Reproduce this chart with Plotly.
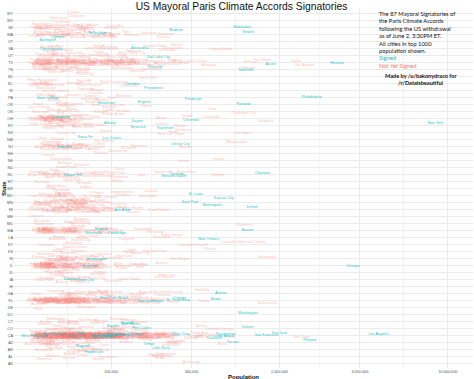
import plotly.graph_objects as go

# ---------------- data ----------------
# states on the y axis, bottom (AK) to top (WY)
STATE_ORDER = ["AK","AL","AR","AZ","CA","CO","CT","DC","DE","FL","GA","HI","IA","ID","IL","IN","KS",
               "KY","LA","MA","MD","ME","MI","MN","MO","MS","MT","NC","ND","NE","NH","NJ","NM","NV",
               "NY","OH","OK","OR","PA","RI","SC","SD","TN","TX","UT","VA","VT","WA","WI","WV","WY"]

X_TICKS = [100000, 300000, 1000000, 3000000, 10000000]
X_TICK_LABELS = ["100,000", "300,000", "1,000,000", "3,000,000", "10,000,000"]

CITY = [
 "Cheyenne, WY","Casper, WY",
 "Charleston, WV","Huntington, WV",
 "Milwaukee, WI","Madison, WI","Green Bay, WI","Kenosha, WI","Racine, WI","Appleton, WI","Waukesha, WI","Eau Claire, WI",
 "Oshkosh, WI","Janesville, WI","West Allis, WI","La Crosse, WI","Sheboygan, WI","Wauwatosa, WI","Fond du Lac, WI","New Berlin, WI",
 "Wausau, WI","Brookfield, WI","Greenfield, WI","Beloit, WI",
 "Seattle, WA","Spokane, WA","Tacoma, WA","Vancouver, WA","Bellevue, WA","Kent, WA","Everett, WA","Renton, WA",
 "Yakima, WA","Federal Way, WA","Spokane Valley, WA","Bellingham, WA","Kennewick, WA","Auburn, WA","Pasco, WA","Marysville, WA",
 "Lakewood, WA","Redmond, WA","Shoreline, WA","Richland, WA","Kirkland, WA","Burien, WA","Sammamish, WA","Olympia, WA",
 "Lacey, WA","Edmonds, WA","Bremerton, WA","Puyallup, WA","Longview, WA",
 "Burlington, VT",
 "Virginia Beach, VA","Norfolk, VA","Chesapeake, VA","Richmond, VA","Newport News, VA","Alexandria, VA","Hampton, VA","Roanoke, VA",
 "Portsmouth, VA","Suffolk, VA","Lynchburg, VA","Harrisonburg, VA","Leesburg, VA","Charlottesville, VA","Danville, VA","Blacksburg, VA",
 "Salt Lake City, UT","West Valley City, UT","Provo, UT","West Jordan, UT","Orem, UT","Sandy, UT","Ogden, UT","St. George, UT",
 "Layton, UT","Taylorsville, UT","South Jordan, UT","Lehi, UT","Logan, UT","Murray, UT","Draper, UT","Bountiful, UT",
 "Riverton, UT","Roy, UT",
 "Houston, TX","San Antonio, TX","Dallas, TX","Austin, TX","Fort Worth, TX","El Paso, TX","Arlington, TX","Corpus Christi, TX",
 "Plano, TX","Laredo, TX","Lubbock, TX","Garland, TX","Irving, TX","Amarillo, TX","Grand Prairie, TX","Brownsville, TX",
 "Pasadena, TX","McKinney, TX","Mesquite, TX","McAllen, TX","Killeen, TX","Frisco, TX","Waco, TX","Carrollton, TX",
 "Denton, TX","Midland, TX","Abilene, TX","Beaumont, TX","Round Rock, TX","Odessa, TX","Wichita Falls, TX","Richardson, TX",
 "Lewisville, TX","Tyler, TX","College Station, TX","Pearland, TX","San Angelo, TX","Allen, TX","League City, TX","Sugar Land, TX",
 "Longview, TX","Edinburg, TX","Mission, TX","Bryan, TX","Baytown, TX","Pharr, TX","Temple, TX","Missouri City, TX",
 "Flower Mound, TX","Harlingen, TX","North Richland Hills, TX","Victoria, TX","Conroe, TX","New Braunfels, TX","Mansfield, TX","Cedar Park, TX",
 "Rowlett, TX","Port Arthur, TX","Euless, TX","Georgetown, TX","Pflugerville, TX","DeSoto, TX","San Marcos, TX","Grapevine, TX",
 "Bedford, TX","Galveston, TX","Cedar Hill, TX","Texas City, TX","Wylie, TX","Haltom City, TX","Keller, TX","Coppell, TX",
 "Rockwall, TX","Huntsville, TX","Duncanville, TX","Sherman, TX","The Colony, TX","Burleson, TX","Hurst, TX","Lancaster, TX",
 "Texarkana, TX","Friendswood, TX","Weslaco, TX",
 "Memphis, TN","Nashville, TN","Knoxville, TN","Chattanooga, TN","Clarksville, TN","Murfreesboro, TN","Franklin, TN","Jackson, TN",
 "Johnson City, TN","Bartlett, TN","Hendersonville, TN","Kingsport, TN","Collierville, TN","Cleveland, TN","Smyrna, TN","Germantown, TN",
 "Brentwood, TN",
 "Sioux Falls, SD","Rapid City, SD",
 "Columbia, SC","Charleston, SC","North Charleston, SC","Mount Pleasant, SC","Rock Hill, SC","Greenville, SC","Summerville, SC","Sumter, SC",
 "Goose Creek, SC","Hilton Head Island, SC","Florence, SC","Spartanburg, SC",
 "Providence, RI","Warwick, RI","Cranston, RI","Pawtucket, RI","East Providence, RI","Woonsocket, RI",
 "Philadelphia, PA","Pittsburgh, PA","Allentown, PA","Erie, PA","Reading, PA","Scranton, PA","Bethlehem, PA","Lancaster, PA",
 "Harrisburg, PA","Altoona, PA","York, PA","State College, PA","Wilkes-Barre, PA",
 "Portland, OR","Salem, OR","Eugene, OR","Gresham, OR","Hillsboro, OR","Beaverton, OR","Bend, OR","Medford, OR",
 "Springfield, OR","Corvallis, OR","Albany, OR","Tigard, OR","Lake Oswego, OR","Keizer, OR",
 "Oklahoma City, OK","Tulsa, OK","Norman, OK","Broken Arrow, OK","Lawton, OK","Edmond, OK","Moore, OK","Midwest City, OK",
 "Enid, OK","Stillwater, OK","Muskogee, OK",
 "Columbus, OH","Cleveland, OH","Cincinnati, OH","Toledo, OH","Akron, OH","Dayton, OH","Parma, OH","Canton, OH",
 "Youngstown, OH","Lorain, OH","Hamilton, OH","Springfield, OH","Kettering, OH","Elyria, OH","Lakewood, OH","Cuyahoga Falls, OH",
 "Middletown, OH","Euclid, OH","Newark, OH","Mansfield, OH","Mentor, OH","Beavercreek, OH","Cleveland Heights, OH","Strongsville, OH",
 "Dublin, OH","Fairfield, OH","Findlay, OH","Warren, OH","Lancaster, OH","Lima, OH","Huber Heights, OH","Westerville, OH",
 "New York, NY","Buffalo, NY","Rochester, NY","Yonkers, NY","Syracuse, NY","Albany, NY","New Rochelle, NY","Mount Vernon, NY",
 "Schenectady, NY","Utica, NY","White Plains, NY","Hempstead, NY","Troy, NY","Niagara Falls, NY","Binghamton, NY","Freeport, NY",
 "Valley Stream, NY",
 "Las Vegas, NV","Henderson, NV","Reno, NV","North Las Vegas, NV","Sparks, NV","Carson City, NV",
 "Albuquerque, NM","Las Cruces, NM","Rio Rancho, NM","Santa Fe, NM","Roswell, NM","Farmington, NM","Clovis, NM",
 "Newark, NJ","Jersey City, NJ","Paterson, NJ","Elizabeth, NJ","Clifton, NJ","Trenton, NJ","Camden, NJ","Passaic, NJ",
 "Union City, NJ","Bayonne, NJ","East Orange, NJ","Vineland, NJ","New Brunswick, NJ","Hoboken, NJ","West New York, NJ","Perth Amboy, NJ",
 "Plainfield, NJ","Hackensack, NJ","Sayreville, NJ","Kearny, NJ","Linden, NJ","Atlantic City, NJ",
 "Manchester, NH","Nashua, NH","Concord, NH",
 "Omaha, NE","Lincoln, NE","Bellevue, NE","Grand Island, NE",
 "Fargo, ND","Bismarck, ND","Grand Forks, ND","Minot, ND",
 "Charlotte, NC","Raleigh, NC","Greensboro, NC","Durham, NC","Winston-Salem, NC","Fayetteville, NC","Cary, NC","Wilmington, NC",
 "High Point, NC","Greenville, NC","Asheville, NC","Concord, NC","Gastonia, NC","Jacksonville, NC","Chapel Hill, NC","Rocky Mount, NC",
 "Burlington, NC","Huntersville, NC","Wilson, NC","Kannapolis, NC","Apex, NC","Hickory, NC","Wake Forest, NC","Indian Trail, NC",
 "Billings, MT","Missoula, MT","Great Falls, MT","Bozeman, MT",
 "Jackson, MS","Gulfport, MS","Southaven, MS","Hattiesburg, MS","Biloxi, MS",
 "Kansas City, MO","St. Louis, MO","Springfield, MO","Independence, MO","Columbia, MO","Lee's Summit, MO","O'Fallon, MO","St. Joseph, MO",
 "St. Charles, MO","St. Peters, MO","Blue Springs, MO","Florissant, MO","Joplin, MO","Chesterfield, MO","Jefferson City, MO","Cape Girardeau, MO",
 "Minneapolis, MN","Saint Paul, MN","Rochester, MN","Duluth, MN","Bloomington, MN","Brooklyn Park, MN","Plymouth, MN","St. Cloud, MN",
 "Maple Grove, MN","Woodbury, MN","Eagan, MN","Eden Prairie, MN","Coon Rapids, MN","Burnsville, MN","Blaine, MN","Lakeville, MN",
 "Minnetonka, MN","Apple Valley, MN","Edina, MN","St. Louis Park, MN","Mankato, MN","Maplewood, MN","Moorhead, MN","Shakopee, MN",
 "Detroit, MI","Grand Rapids, MI","Warren, MI","Sterling Heights, MI","Ann Arbor, MI","Lansing, MI","Flint, MI","Dearborn, MI",
 "Livonia, MI","Westland, MI","Troy, MI","Farmington Hills, MI","Kalamazoo, MI","Wyoming, MI","Southfield, MI","Rochester Hills, MI",
 "Taylor, MI","Pontiac, MI","St. Clair Shores, MI","Royal Oak, MI","Novi, MI","Dearborn Heights, MI","Battle Creek, MI","Saginaw, MI",
 "Kentwood, MI","East Lansing, MI","Roseville, MI","Portage, MI","Midland, MI","Muskegon, MI","Lincoln Park, MI",
 "Portland, ME","Lewiston, ME",
 "Baltimore, MD","Frederick, MD","Gaithersburg, MD","Rockville, MD","Bowie, MD","Hagerstown, MD","Annapolis, MD",
 "Boston, MA","Worcester, MA","Springfield, MA","Lowell, MA","Cambridge, MA","New Bedford, MA","Brockton, MA","Quincy, MA",
 "Lynn, MA","Fall River, MA","Newton, MA","Lawrence, MA","Somerville, MA","Framingham, MA","Waltham, MA","Haverhill, MA",
 "Malden, MA","Brookline, MA","Plymouth, MA","Medford, MA","Taunton, MA","Chicopee, MA","Weymouth, MA","Revere, MA",
 "Peabody, MA","Methuen, MA","Barnstable, MA","Pittsfield, MA","Attleboro, MA","Arlington, MA","Everett, MA","Salem, MA",
 "Westfield, MA","Leominster, MA","Fitchburg, MA","Beverly, MA","Holyoke, MA","Marlborough, MA","Woburn, MA","Chelsea, MA",
 "New Orleans, LA","Baton Rouge, LA","Shreveport, LA","Lafayette, LA","Lake Charles, LA","Kenner, LA","Bossier City, LA","Monroe, LA",
 "Alexandria, LA",
 "Louisville/Jefferson County, KY","Lexington-Fayette, KY","Bowling Green, KY","Owensboro, KY","Covington, KY",
 "Wichita, KS","Overland Park, KS","Kansas City, KS","Olathe, KS","Topeka, KS","Lawrence, KS","Shawnee, KS","Manhattan, KS",
 "Lenexa, KS","Salina, KS","Hutchinson, KS",
 "Indianapolis, IN","Fort Wayne, IN","Evansville, IN","South Bend, IN","Carmel, IN","Fishers, IN","Bloomington, IN","Hammond, IN",
 "Gary, IN","Muncie, IN","Lafayette, IN","Terre Haute, IN","Kokomo, IN","Noblesville, IN","Anderson, IN","Greenwood, IN",
 "Elkhart, IN","Mishawaka, IN","Lawrence, IN","Jeffersonville, IN","Columbus, IN","Portage, IN",
 "Chicago, IL","Aurora, IL","Rockford, IL","Joliet, IL","Naperville, IL","Springfield, IL","Peoria, IL","Elgin, IL",
 "Waukegan, IL","Cicero, IL","Champaign, IL","Bloomington, IL","Arlington Heights, IL","Evanston, IL","Decatur, IL","Schaumburg, IL",
 "Bolingbrook, IL","Palatine, IL","Skokie, IL","Des Plaines, IL","Orland Park, IL","Tinley Park, IL","Oak Lawn, IL","Berwyn, IL",
 "Mount Prospect, IL","Normal, IL","Wheaton, IL","Hoffman Estates, IL","Oak Park, IL","Downers Grove, IL","Glenview, IL","Elmhurst, IL",
 "DeKalb, IL","Lombard, IL","Moline, IL","Belleville, IL","Plainfield, IL","Buffalo Grove, IL","Bartlett, IL","Urbana, IL",
 "Quincy, IL","Crystal Lake, IL","Streamwood, IL","Carol Stream, IL","Romeoville, IL","Rock Island, IL","Hanover Park, IL","Wheeling, IL",
 "Boise City, ID","Nampa, ID","Meridian, ID","Idaho Falls, ID","Pocatello, ID","Caldwell, ID","Coeur d'Alene, ID","Twin Falls, ID",
 "Des Moines, IA","Cedar Rapids, IA","Davenport, IA","Sioux City, IA","Iowa City, IA","Waterloo, IA","Council Bluffs, IA","Ames, IA",
 "West Des Moines, IA","Dubuque, IA","Ankeny, IA","Urbandale, IA","Cedar Falls, IA",
 "Honolulu, HI",
 "Atlanta, GA","Columbus, GA","Augusta-Richmond County, GA","Savannah, GA","Athens-Clarke County, GA","Sandy Springs, GA","Roswell, GA","Macon, GA",
 "Johns Creek, GA","Albany, GA","Warner Robins, GA","Alpharetta, GA","Marietta, GA","Valdosta, GA","Smyrna, GA","Dunwoody, GA",
 "Rome, GA",
 "Jacksonville, FL","Miami, FL","Tampa, FL","Orlando, FL","St. Petersburg, FL","Hialeah, FL","Tallahassee, FL","Fort Lauderdale, FL",
 "Port St. Lucie, FL","Cape Coral, FL","Pembroke Pines, FL","Hollywood, FL","Miramar, FL","Gainesville, FL","Coral Springs, FL","Miami Gardens, FL",
 "Clearwater, FL","Palm Bay, FL","Pompano Beach, FL","West Palm Beach, FL","Lakeland, FL","Davie, FL","Miami Beach, FL","Sunrise, FL",
 "Plantation, FL","Boca Raton, FL","Deltona, FL","Largo, FL","Deerfield Beach, FL","Palm Coast, FL","Melbourne, FL","Boynton Beach, FL",
 "Lauderhill, FL","Weston, FL","Fort Myers, FL","Kissimmee, FL","Homestead, FL","Delray Beach, FL","Tamarac, FL","Daytona Beach, FL",
 "North Miami, FL","Wellington, FL","North Port, FL","Jupiter, FL","Ocala, FL","Port Orange, FL","Margate, FL","Coconut Creek, FL",
 "Sanford, FL","Sarasota, FL","Pensacola, FL","Bradenton, FL","Palm Beach Gardens, FL","Pinellas Park, FL","Coral Gables, FL","Doral, FL",
 "Bonita Springs, FL","Apopka, FL","Titusville, FL","North Miami Beach, FL","Oakland Park, FL","Fort Pierce, FL","North Lauderdale, FL","Cutler Bay, FL",
 "Altamonte Springs, FL","St. Cloud, FL","Greenacres, FL","Ormond Beach, FL","Ocoee, FL","Hallandale Beach, FL","Winter Garden, FL","Aventura, FL",
 "Wilmington, DE","Dover, DE",
 "Washington, DC",
 "Bridgeport, CT","New Haven, CT","Stamford, CT","Hartford, CT","Waterbury, CT","Norwalk, CT","Danbury, CT","New Britain, CT",
 "Bristol, CT","Meriden, CT","West Haven, CT","Milford, CT","Middletown, CT","Shelton, CT","Norwich, CT",
 "Denver, CO","Colorado Springs, CO","Aurora, CO","Fort Collins, CO","Lakewood, CO","Thornton, CO","Arvada, CO","Westminster, CO",
 "Pueblo, CO","Centennial, CO","Boulder, CO","Greeley, CO","Longmont, CO","Loveland, CO","Broomfield, CO","Grand Junction, CO",
 "Castle Rock, CO","Commerce City, CO","Parker, CO","Littleton, CO","Northglenn, CO",
 "Los Angeles, CA","San Diego, CA","San Jose, CA","San Francisco, CA","Fresno, CA","Sacramento, CA","Long Beach, CA","Oakland, CA",
 "Bakersfield, CA","Anaheim, CA","Santa Ana, CA","Riverside, CA","Stockton, CA","Chula Vista, CA","Irvine, CA","Fremont, CA",
 "San Bernardino, CA","Modesto, CA","Fontana, CA","Oxnard, CA","Moreno Valley, CA","Glendale, CA","Huntington Beach, CA","Santa Clarita, CA",
 "Garden Grove, CA","Oceanside, CA","Rancho Cucamonga, CA","Santa Rosa, CA","Ontario, CA","Elk Grove, CA","Lancaster, CA","Corona, CA",
 "Palmdale, CA","Salinas, CA","Pomona, CA","Hayward, CA","Escondido, CA","Torrance, CA","Sunnyvale, CA","Pasadena, CA",
 "Orange, CA","Fullerton, CA","Thousand Oaks, CA","Visalia, CA","Simi Valley, CA","Concord, CA","Roseville, CA","Victorville, CA",
 "Santa Clara, CA","Vallejo, CA","Berkeley, CA","El Monte, CA","Downey, CA","Costa Mesa, CA","Inglewood, CA","Carlsbad, CA",
 "Fairfield, CA","Ventura, CA","West Covina, CA","Murrieta, CA","Richmond, CA","Antioch, CA","Norwalk, CA","Temecula, CA",
 "Burbank, CA","Daly City, CA","Santa Maria, CA","El Cajon, CA","Rialto, CA","San Mateo, CA","Clovis, CA","Compton, CA",
 "Jurupa Valley, CA","Mission Viejo, CA","Vista, CA","South Gate, CA","Vacaville, CA","Carson, CA","Hesperia, CA","Santa Monica, CA",
 "Westminster, CA","Redding, CA","Santa Barbara, CA","San Marcos, CA","Chico, CA","San Leandro, CA","Newport Beach, CA","Whittier, CA",
 "Hawthorne, CA","Citrus Heights, CA","Tracy, CA","Livermore, CA","Alhambra, CA","Menifee, CA","Buena Park, CA","Hemet, CA",
 "Lakewood, CA","Merced, CA","Chino, CA","Indio, CA","Redwood City, CA","Lake Forest, CA","Napa, CA","Tustin, CA",
 "Bellflower, CA","Mountain View, CA","Chino Hills, CA","Baldwin Park, CA","Alameda, CA","Upland, CA","San Ramon, CA","Pleasanton, CA",
 "Folsom, CA","Union City, CA","Perris, CA","Manteca, CA","Lynwood, CA","Apple Valley, CA","Redlands, CA","Turlock, CA",
 "Milpitas, CA","Redondo Beach, CA","Rancho Cordova, CA","Yorba Linda, CA","Palo Alto, CA","Davis, CA","Camarillo, CA","Walnut Creek, CA",
 "Pittsburg, CA","South San Francisco, CA","Yuba City, CA","San Clemente, CA","Laguna Niguel, CA","Pico Rivera, CA","Montebello, CA","Lodi, CA",
 "Madera, CA","Santa Cruz, CA","La Habra, CA","Encinitas, CA","Monterey Park, CA","Tulare, CA","Cupertino, CA","Gardena, CA",
 "National City, CA","Rocklin, CA","Petaluma, CA","Huntington Park, CA","San Rafael, CA","La Mesa, CA","Arcadia, CA","Fountain Valley, CA",
 "Diamond Bar, CA","Woodland, CA","Santee, CA","Lake Elsinore, CA","Porterville, CA","Paramount, CA","Eastvale, CA","Rosemead, CA",
 "Hanford, CA","Highland, CA","Brentwood, CA","Novato, CA","Colton, CA","Cathedral City, CA","Delano, CA","Yucaipa, CA",
 "Watsonville, CA","Placentia, CA","Glendora, CA","Gilroy, CA","Palm Desert, CA","Cerritos, CA","West Sacramento, CA","Aliso Viejo, CA",
 "Poway, CA","La Mirada, CA","Rancho Santa Margarita, CA","Cypress, CA","Dublin, CA","Covina, CA","Azusa, CA","Palm Springs, CA",
 "San Luis Obispo, CA","Ceres, CA","San Jacinto, CA","Lincoln, CA","Newark, CA","Lompoc, CA","El Centro, CA","Danville, CA",
 "Bell Gardens, CA","Coachella, CA","Rancho Palos Verdes, CA","San Bruno, CA","Rohnert Park, CA","Brea, CA","La Puente, CA","Campbell, CA",
 "San Gabriel, CA","Beaumont, CA","Morgan Hill, CA","Culver City, CA","Calexico, CA","Stanton, CA","La Quinta, CA","Pacifica, CA",
 "Montclair, CA","Oakley, CA","Monrovia, CA","Los Banos, CA","Martinez, CA","West Hollywood, CA",
 "Phoenix, AZ","Tucson, AZ","Mesa, AZ","Chandler, AZ","Glendale, AZ","Scottsdale, AZ","Gilbert, AZ","Tempe, AZ",
 "Peoria, AZ","Surprise, AZ","Yuma, AZ","Avondale, AZ","Goodyear, AZ","Flagstaff, AZ","Buckeye, AZ","Lake Havasu City, AZ",
 "Casa Grande, AZ","Sierra Vista, AZ","Maricopa, AZ","Oro Valley, AZ","Prescott, AZ","Bullhead City, AZ","Prescott Valley, AZ","Apache Junction, AZ",
 "Little Rock, AR","Fort Smith, AR","Fayetteville, AR","Springdale, AR","Jonesboro, AR","North Little Rock, AR","Conway, AR","Rogers, AR",
 "Pine Bluff, AR","Bentonville, AR",
 "Birmingham, AL","Montgomery, AL","Mobile, AL","Huntsville, AL","Tuscaloosa, AL","Hoover, AL","Dothan, AL","Decatur, AL",
 "Auburn, AL","Madison, AL","Florence, AL",
 "Anchorage, AK",
]

# population in thousands, same order as CITY
POP_K = [
 62,60,
 51,49,
 599,243,105,100,78,73,71,67,
 67,64,61,52,49,47,43,40,
 39,38,37,37,
 652,211,203,167,133,123,105,97,
 93,92,91,83,76,74,68,63,
 59,57,54,52,50,49,49,48,
 44,40,39,38,36,
 42,
 448,246,231,214,182,148,136,98,
 97,85,78,51,47,44,43,43,
 191,133,116,110,91,90,84,76,
 70,60,59,55,48,48,45,43,
 41,37,
 2196,1409,1258,885,792,674,380,316,
 274,245,240,235,229,197,183,181,
 153,148,144,136,137,136,130,126,
 123,123,120,118,110,110,104,104,
 101,99,100,100,97,92,90,84,
 81,81,81,78,75,73,70,70,
 68,65,67,65,63,63,60,61,
 58,54,53,54,53,51,54,49,
 48,48,46,46,44,43,42,40,
 40,39,39,39,39,40,38,38,
 37,37,37,
 653,634,183,173,142,117,68,67,
 65,55,54,52,47,43,43,39,
 39,
 165,70,
 133,128,104,74,69,61,46,41,
 39,39,38,37,
 178,82,81,71,47,41,
 1553,306,119,101,88,76,75,59,
 49,46,44,42,41,
 609,161,157,109,97,94,81,77,
 60,55,51,50,37,37,
 610,398,118,103,97,87,58,56,
 50,46,38,
 822,390,297,282,198,143,80,72,
 65,64,62,60,56,54,51,49,
 49,48,48,47,47,46,45,45,
 43,42,41,40,39,38,38,37,
 8406,259,210,199,144,98,79,68,
 66,62,57,54,50,49,46,43,
 38,
 604,271,233,226,93,54,
 557,101,91,70,48,45,39,
 278,257,145,127,85,84,77,70,
 68,65,64,61,57,53,53,51,
 50,44,44,41,41,40,
 110,87,42,
 434,268,53,50,
 113,67,54,46,
 792,431,280,246,236,204,151,112,
 108,90,87,83,73,69,59,56,
 51,50,49,44,43,40,37,37,
 109,69,59,39,
 172,71,51,47,44,
 467,318,165,117,116,93,82,77,
 67,54,53,52,51,47,43,39,
 400,294,110,86,86,78,73,66,
 65,65,65,62,62,61,61,58,
 51,50,49,47,40,39,39,39,
 689,192,135,131,117,113,100,96,
 95,83,82,81,75,74,72,72,
 62,60,60,58,57,56,51,50,
 50,48,47,47,42,37,37,
 66,36,
 622,67,65,64,56,40,39,
 646,183,154,109,108,95,94,93,
 91,88,87,78,78,70,63,62,
 61,59,57,57,56,55,55,53,
 52,49,44,44,44,43,42,42,
 41,41,40,40,40,39,39,37,
 379,229,200,124,74,67,66,49,
 48,
 609,308,61,59,41,
 386,181,149,131,127,90,64,56,
 50,48,41,
 843,256,120,101,85,83,82,79,
 79,70,70,61,57,56,55,53,
 51,48,47,46,45,37,
 2719,199,150,148,144,117,116,110,
 88,84,83,78,75,75,74,74,
 74,69,65,58,58,57,57,56,
 54,54,53,52,52,49,46,45,
 44,44,43,42,42,41,41,41,
 40,40,40,40,39,38,38,38,
 214,86,83,58,54,48,46,46,
 207,128,102,82,71,68,62,61,
 61,58,51,41,40,
 347,
 447,202,197,143,119,99,94,89,
 83,76,72,62,59,56,53,47,
 36,
 843,418,353,255,250,233,186,172,
 169,165,163,146,130,127,126,113,
 109,104,104,104,100,96,91,90,
 90,89,86,78,78,78,77,71,
 70,68,68,65,64,64,63,62,
 61,60,59,58,57,57,56,56,
 56,53,52,51,50,50,50,50,
 47,45,44,43,43,43,43,43,
 42,40,39,39,39,39,37,37,
 71,37,
 646,
 147,130,126,125,110,87,83,73,
 60,60,55,52,47,41,40,
 649,440,345,152,147,127,111,110,
 108,106,103,96,89,71,59,59,
 53,49,48,44,37,
 3884,1356,998,837,509,479,469,406,
 364,345,334,316,298,257,236,224,
 213,204,203,203,201,196,195,179,
 175,172,171,171,167,161,159,159,
 157,155,151,151,148,147,147,139,
 139,138,129,127,126,125,124,121,
 120,118,116,115,113,112,111,110,
 109,108,107,107,107,107,106,106,
 105,104,102,102,101,101,99,98,
 98,96,96,95,94,92,92,92,
 91,91,90,89,88,88,87,87,
 86,85,85,85,84,83,82,81,
 81,81,81,80,80,79,79,78,
 77,77,77,76,76,75,75,74,
 73,72,72,71,71,70,70,70,
 69,67,67,67,66,66,66,66,
 66,66,65,65,65,64,63,63,
 63,62,61,61,61,61,60,60,
 59,59,59,59,58,58,57,56,
 56,56,56,57,55,55,57,54,
 54,54,55,53,53,53,53,52,
 52,52,51,51,50,49,49,49,
 49,49,49,49,49,48,47,46,
 46,46,46,45,44,43,43,43,
 42,43,42,42,41,41,40,41,
 40,40,40,39,39,39,39,38,
 38,38,37,37,37,35,
 1513,527,457,249,235,226,229,168,
 162,123,91,78,72,68,56,53,
 51,44,45,41,40,39,39,37,
 197,87,79,76,71,66,63,60,
 46,40,
 212,201,195,186,95,84,68,56,
 57,45,40,
 301,
]

# mayors who had signed as of June 2, 3:30PM ET
SIGNED = [
 "New York, NY","Los Angeles, CA","Chicago, IL","Houston, TX","Philadelphia, PA","Phoenix, AZ","San Jose, CA",
 "San Francisco, CA","Austin, TX","Seattle, WA","Milwaukee, WI","Nashville, TN","Boston, MA","Detroit, MI",
 "Washington, DC","Denver, CO","Portland, OR","Atlanta, GA","Miami, FL","Kansas City, MO","St. Louis, MO",
 "Minneapolis, MN","Saint Paul, MN","Charlotte, NC","Durham, NC","Winston-Salem, NC","Chapel Hill, NC",
 "Jersey City, NJ","Hoboken, NJ","Orlando, FL","St. Petersburg, FL","New Orleans, LA","Pittsburgh, PA",
 "Salt Lake City, UT","Knoxville, TN","Providence, RI","Burlington, VT","Madison, WI","Olympia, WA",
 "Bellingham, WA","Santa Fe, NM","Albany, NY","Syracuse, NY","Tucson, AZ","Flagstaff, AZ","Tempe, AZ",
 "Long Beach, CA","Sacramento, CA","Oakland, CA","Berkeley, CA","Santa Monica, CA","Pasadena, CA",
 "Santa Barbara, CA","West Hollywood, CA","Santa Cruz, CA","Davis, CA","Palm Springs, CA","Richmond, CA",
 "San Leandro, CA","Chula Vista, CA","Boulder, CO","Fort Collins, CO","Evanston, IL","Ann Arbor, MI",
 "Iowa City, IA","Dubuque, IA","Bloomington, IN","Cambridge, MA","Somerville, MA","Newton, MA",
 "New Haven, CT","Hartford, CT","Fort Lauderdale, FL","West Palm Beach, FL","Columbia, SC","Little Rock, AR",
 "Fayetteville, AR","Alexandria, VA","Charlottesville, VA","Eugene, OR","Beaverton, OR","State College, PA",
 "Lakewood, OH","Cincinnati, OH","Dayton, OH","Las Cruces, NM","Rochester, NY",
]

INFO_LINES = ["The 87 Mayoral Signatories of", "the Paris Climate Accords", "following the US withdrawal",
              "as of June 2, 3:30PM ET.", "All cities in top 1000", "population shown."]
CREDIT_LINES = ["Made by /u/bakonydraco for", "/r/Dataisbeautiful"]

# ---------------- figure ----------------
TEAL = "#00BFC4"
SALMON = "#F8766D"
W, H = 474, 379
M = dict(l=14, r=1, t=9, b=11)
PLOT_H = H - M["t"] - M["b"]
PLOT_W = W - M["l"] - M["r"]


def paper_y(px):          # pixel row (from top of figure) -> paper y
    return 1 - (px - M["t"]) / PLOT_H


def paper_x(px):
    return (px - M["l"]) / PLOT_W


row = {s: i for i, s in enumerate(STATE_ORDER)}
signed_set = set(SIGNED)

groups = {False: ([], [], []), True: ([], [], [])}
n = min(len(CITY), len(POP_K))
for i in range(n):
    name, st = CITY[i].rsplit(", ", 1)
    jitter = ((i * 0.6180339887) % 1.0 - 0.5) * 0.84   # vertical jitter within the state row
    g = groups[CITY[i] in signed_set]
    g[0].append(POP_K[i] * 1000)
    g[1].append(row[st] + jitter)
    g[2].append(name)

fig = go.Figure()
for is_signed, color in ((False, "rgba(248,118,109,0.5)"), (True, "rgba(0,191,196,0.95)")):
    xs, ys, ts = groups[is_signed]
    fig.add_trace(go.Scatter(
        x=xs, y=ys, text=ts, mode="text",
        textfont=dict(size=3.7, color=color, family="Liberation Sans, Arial, sans-serif"),
        hoverinfo="text", showlegend=False,
    ))

minor_vals = [(a * b) ** 0.5 for a, b in zip([30000] + X_TICKS[:-1], X_TICKS)]

fig.update_layout(
    width=W, height=H,
    margin=M,
    paper_bgcolor="white", plot_bgcolor="white",
    showlegend=False,
    title=dict(text="US Mayoral Paris Climate Accords Signatories",
               x=0.5095, xanchor="center", y=0.983, yanchor="middle",
               font=dict(size=10.3, color="#111111", family="Liberation Sans, Arial, sans-serif")),
    xaxis=dict(type="log", range=[4.423, 7.149],
               tickvals=X_TICKS, ticktext=X_TICK_LABELS,
               tickfont=dict(size=3.8, color="#555555", family="Liberation Sans, Arial"),
               showgrid=True, gridcolor="#ebebeb", gridwidth=1,
               zeroline=False, showline=False, ticks="", automargin=False,
               minor=dict(tickvals=minor_vals, showgrid=True, gridcolor="#f4f4f4", gridwidth=0.6, ticks="")),
    yaxis=dict(range=[-0.6, len(STATE_ORDER) - 0.4],
               tickvals=list(range(len(STATE_ORDER))), ticktext=STATE_ORDER,
               tickfont=dict(size=3.8, color="#555555", family="Liberation Sans, Arial"),
               showgrid=True, gridcolor="#ebebeb", gridwidth=1,
               zeroline=False, showline=False, ticks="", automargin=False),
)

fig.add_annotation(xref="paper", yref="paper", x=0.5, y=0, yshift=-9,
                   text="<b>Population</b>", showarrow=False, xanchor="center", yanchor="middle",
                   font=dict(size=6, color="#111111", family="Liberation Sans, Arial"))
fig.add_annotation(xref="paper", yref="paper", x=0, y=0.5, xshift=-10.5,
                   text="<b>State</b>", textangle=-90, showarrow=False, xanchor="center", yanchor="middle",
                   font=dict(size=6, color="#111111", family="Liberation Sans, Arial"))

info_font = dict(size=5.8, color="#111111", family="Lato, sans-serif")
lines = [(t, "#111111") for t in INFO_LINES] + [("Signed", TEAL), ("Not Yet Signed", SALMON)]
for k, (t, c) in enumerate(lines):
    fig.add_annotation(xref="paper", yref="paper", x=paper_x(378), y=paper_y(13.4 + 7.4 * k),
                       text=t, showarrow=False, xanchor="left", yanchor="middle", borderpad=0,
                       font=dict(info_font, color=c))
for k, t in enumerate(CREDIT_LINES):
    fig.add_annotation(xref="paper", yref="paper", x=paper_x(421), y=paper_y(75.5 + 7.2 * k),
                       text=f"<b>{t}</b>", showarrow=False, xanchor="center", yanchor="middle", borderpad=0,
                       font=dict(size=5.6, color="#111111", family="Lato, sans-serif"))

fig.write_html("out.html", config={"displayModeBar": False},
               post_script="document.body.style.margin='0';document.body.style.overflow='hidden';")
